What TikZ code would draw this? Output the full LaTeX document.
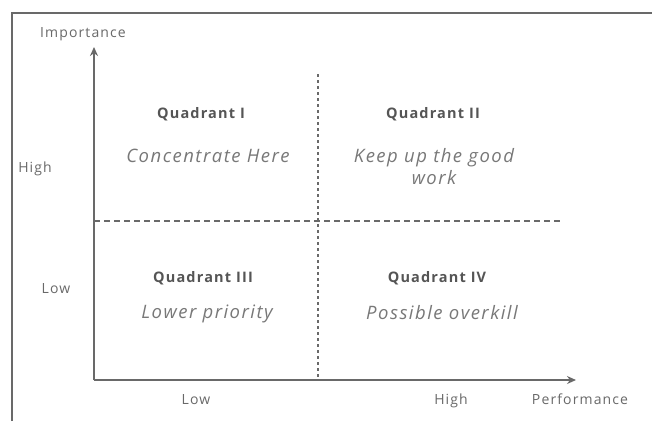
\documentclass[tikz,border=0pt]{standalone}
\usepackage{fontspec}
\setmainfont{Open Sans}[LetterSpace=8]
\usetikzlibrary{arrows.meta,positioning}
\definecolor{axisgray}{RGB}{105,105,105}
\definecolor{titlegray}{RGB}{85,85,85}
\definecolor{textgray}{RGB}{120,120,120}

\begin{document}
\begin{tikzpicture}[
    x=1pt, y=-1pt,
    every node/.style={inner sep=0pt},
    axis/.style={axisgray, line width=1.6pt, -{Stealth[length=9pt, width=8pt]}},
    vdivider/.style={axisgray, line width=1.3pt, dash pattern=on 3pt off 3pt},
    hdivider/.style={axisgray, line width=1.3pt, dash pattern=on 6pt off 4pt},
    quadtitle/.style={font=\fontsize{14.5}{17}\selectfont\bfseries, titlegray, anchor=base},
    quadtext/.style={font=\fontsize{18.5}{22}\selectfont\itshape, textgray, align=center, anchor=base},
    axislabel/.style={font=\fontsize{14}{16}\selectfont, axisgray, anchor=base}
]
    \useasboundingbox (0,0) rectangle (652,421);
    \fill[white] (0,0) rectangle (652,421);

    % Frame
    \draw[axisgray, line width=1.5pt] (12,421) -- (12,13) -- (652,13);

    % Axes
    \coordinate (origin) at (94,380);
    \coordinate (ytip) at (94,47);
    \coordinate (xtip) at (576,380);
    \draw[axis] (origin) -- (ytip);
    \draw[axis] (origin) -- (xtip);

    % Quadrant dividers
    \coordinate (vtop) at (318,74);
    \coordinate (vbot) at (318,380);
    \coordinate (hleft) at (94,221);
    \coordinate (hright) at (560,221);
    \draw[vdivider] (vtop) -- (vbot);
    \draw[hdivider] (hleft) -- (hright);

    % Axis labels
    \node[axislabel] (ylabel) at (83,37) {Importance};
    \node[axislabel] (yhigh) at (35,172) {High};
    \node[axislabel] (ylow) at (56,293) {Low};
    \node[axislabel] (xlow) at (196,404) {Low};
    \node[axislabel] (xhigh) at (451,404) {High};
    \node[axislabel] (xlabel) at (580,404) {Performance};

    % Quadrants
    \node[quadtitle] (q1title) at (201,118) {Quadrant I};
    \node[quadtext] (q1text) at (208,162) {Concentrate Here};
    \node[quadtitle] (q2title) at (433,118) {Quadrant II};
    \node[quadtext] (q2text) at (434,184) {Keep up the good\\work};
    \node[quadtitle] (q3title) at (203,282) {Quadrant III};
    \node[quadtext] (q3text) at (207,318) {Lower priority};
    \node[quadtitle] (q4title) at (437,282) {Quadrant IV};
    \node[quadtext] (q4text) at (442,319) {Possible overkill};
\end{tikzpicture}
\end{document}
